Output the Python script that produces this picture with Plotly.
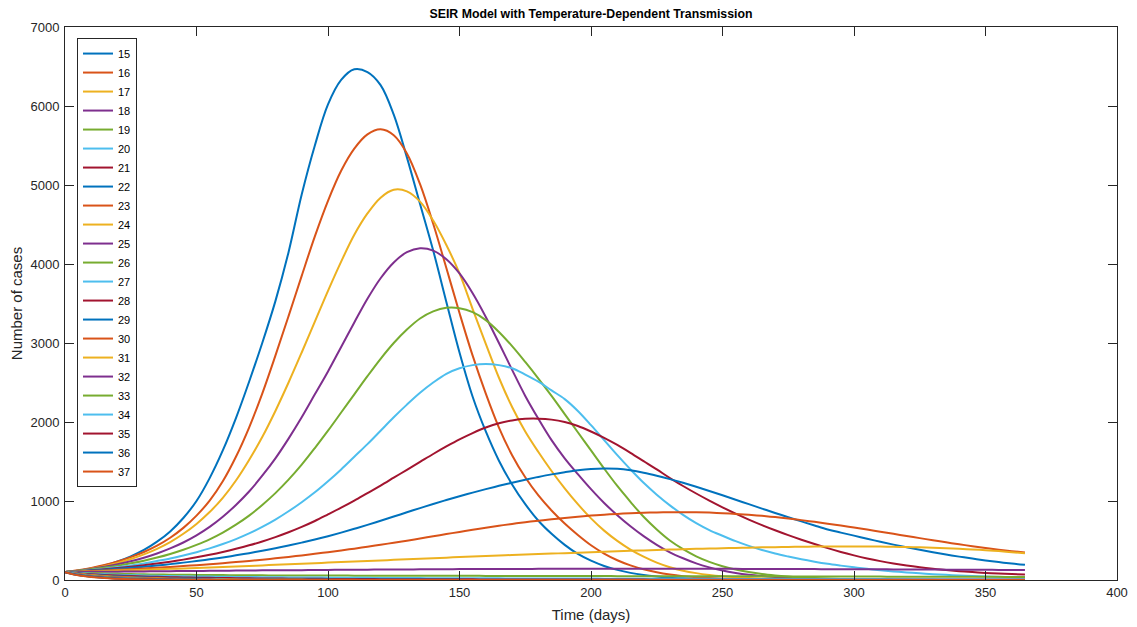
import plotly.graph_objects as go

# Time grid (days): every 5 days from 0 to 365
DAYS = list(range(0, 370, 5))

# Temperature labels (legend)
TEMPS = [15, 16, 17, 18, 19, 20, 21, 22, 23, 24, 25, 26, 27, 28, 29, 30, 31, 32, 33, 34, 35, 36, 37]

# Infected counts per temperature (one value per 5 days)
I15 = [100, 118, 145, 185, 235, 300, 380, 485, 615, 785,
       1000, 1290, 1640, 2050, 2510, 3000, 3530, 4150, 4880, 5500,
       6020, 6330, 6464, 6430, 6265, 5890, 5350, 4760, 4170, 3520,
       2880, 2320, 1880, 1510, 1210, 960, 750, 585, 445, 330,
       245, 178, 128, 90, 63, 44, 30, 21, 14, 10,
       7, 5, 3, 2, 2, 1, 1, 1, 0, 0,
       0, 0, 0, 0, 0, 0, 0, 0, 0, 0,
       0, 0, 0, 0]
I16 = [100, 122, 152, 190, 235, 290, 355, 435, 535, 660,
       815, 1005, 1250, 1560, 1930, 2360, 2840, 3340, 3850, 4350,
       4800, 5180, 5460, 5640, 5705, 5630, 5400, 5010, 4510, 3950,
       3380, 2840, 2360, 1930, 1580, 1300, 1070, 880, 715, 570,
       440, 335, 250, 185, 135, 97, 69, 49, 35, 25,
       17, 12, 9, 6, 4, 3, 2, 2, 1, 1,
       1, 0, 0, 0, 0, 0, 0, 0, 0, 0,
       0, 0, 0, 0]
I17 = [100, 118, 143, 175, 215, 265, 325, 395, 480, 585,
       710, 860, 1040, 1260, 1520, 1810, 2140, 2500, 2880, 3270,
       3660, 4030, 4370, 4640, 4840, 4940, 4920, 4790, 4550, 4240,
       3880, 3430, 2990, 2560, 2190, 1880, 1620, 1380, 1160, 960,
       780, 625, 495, 385, 295, 220, 162, 118, 87, 64,
       47, 34, 25, 18, 13, 10, 7, 5, 4, 3,
       2, 2, 1, 1, 1, 0, 0, 0, 0, 0,
       0, 0, 0, 0]
I18 = [100, 118, 140, 167, 199, 237, 282, 336, 400, 475,
       565, 672, 800, 950, 1120, 1320, 1540, 1790, 2060, 2350,
       2640, 2950, 3260, 3560, 3820, 4020, 4150, 4200, 4170, 4060,
       3880, 3630, 3330, 3000, 2660, 2330, 2040, 1770, 1540, 1340,
       1150, 975, 820, 680, 555, 445, 350, 275, 210, 160,
       120, 90, 67, 50, 37, 27, 20, 15, 11, 8,
       6, 4, 3, 2, 2, 1, 1, 1, 1, 0,
       0, 0, 0, 0]
I19 = [100, 116, 135, 157, 182, 211, 245, 284, 330, 383,
       445, 515, 600, 700, 815, 950, 1100, 1270, 1460, 1670,
       1890, 2120, 2350, 2580, 2800, 3000, 3170, 3310, 3400, 3445,
       3440, 3390, 3290, 3140, 2960, 2760, 2550, 2330, 2100, 1870,
       1640, 1410, 1190, 990, 800, 640, 500, 390, 300, 230,
       175, 132, 100, 75, 57, 43, 32, 24, 18, 13,
       10, 8, 6, 4, 3, 2, 2, 1, 1, 1,
       1, 1, 0, 0]
I20 = [100, 112, 126, 143, 163, 185, 210, 240, 272, 310,
       352, 400, 455, 518, 590, 672, 765, 870, 985, 1110,
       1250, 1400, 1560, 1720, 1890, 2060, 2220, 2370, 2500, 2610,
       2680, 2720, 2735, 2720, 2680, 2600, 2510, 2400, 2290, 2140,
       1960, 1770, 1580, 1400, 1230, 1080, 945, 825, 720, 632,
       560, 492, 432, 380, 335, 297, 262, 232, 205, 182,
       160, 141, 124, 109, 96, 84, 74, 65, 57, 50,
       44, 39, 34, 31]
I21 = [100, 111, 123, 137, 152, 169, 188, 209, 232, 258,
       287, 319, 355, 395, 439, 488, 543, 604, 672, 747,
       830, 915, 1005, 1100, 1195, 1295, 1395, 1495, 1595, 1690,
       1780, 1860, 1930, 1985, 2020, 2040, 2042, 2030, 2000, 1950,
       1880, 1800, 1710, 1610, 1505, 1400, 1290, 1190, 1095, 1005,
       920, 840, 765, 695, 630, 568, 510, 455, 403, 355,
       312, 273, 239, 209, 183, 161, 142, 126, 112, 100,
       90, 82, 75, 70]
I22 = [100, 109, 119, 130, 142, 155, 169, 184, 201, 220,
       240, 262, 286, 312, 340, 370, 402, 436, 473, 513,
       555, 600, 648, 698, 750, 803, 857, 910, 962, 1012,
       1060, 1106, 1150, 1192, 1232, 1270, 1305, 1337, 1364, 1388,
       1405, 1412, 1407, 1388, 1358, 1320, 1277, 1230, 1180, 1127,
       1072, 1016, 960, 904, 849, 795, 742, 690, 640, 600,
       562, 522, 484, 448, 415, 383, 352, 323, 296, 271,
       248, 227, 208, 192]
I23 = [100, 106, 113, 121, 129, 137, 146, 155, 165, 176,
       188, 200, 213, 227, 242, 257, 274, 292, 311, 331,
       352, 374, 397, 421, 446, 472, 498, 525, 553, 581,
       609, 636, 662, 687, 710, 731, 751, 769, 786, 801,
       815, 827, 837, 845, 851, 855, 857, 858, 857, 853,
       846, 837, 826, 812, 796, 778, 758, 736, 713, 689,
       664, 638, 611, 584, 557, 530, 503, 477, 452, 428,
       405, 384, 365, 348]
I24 = [100, 104, 109, 114, 119, 125, 130, 135, 141, 146,
       152, 158, 164, 171, 178, 185, 192, 199, 206, 213,
       220, 227, 234, 241, 248, 255, 262, 269, 276, 283,
       290, 297, 303, 310, 316, 322, 328, 334, 340, 346,
       352, 358, 364, 369, 375, 380, 385, 390, 394, 398,
       402, 406, 409, 413, 416, 418, 421, 423, 424, 425,
       425, 424, 423, 420, 417, 413, 408, 402, 395, 387,
       377, 366, 352, 338]
I25 = [100, 101, 103, 104, 106, 107, 109, 110, 112, 113,
       115, 116, 118, 119, 120, 122, 123, 124, 125, 127,
       128, 129, 130, 131, 132, 133, 134, 135, 136, 137,
       138, 138, 139, 139, 140, 140, 141, 141, 141, 142,
       142, 142, 142, 142, 142, 142, 142, 142, 141, 141,
       141, 141, 140, 140, 139, 139, 138, 138, 137, 137,
       136, 135, 135, 134, 133, 133, 132, 131, 130, 130,
       129, 128, 128, 127]
I26 = [100, 93, 87, 82, 78, 75, 72, 70, 68, 66,
       64, 63, 62, 61, 60, 59, 58, 58, 57, 57,
       56, 56, 55, 55, 55, 54, 54, 54, 53, 53,
       53, 53, 52, 52, 52, 51, 51, 51, 50, 50,
       50, 50, 49, 49, 49, 48, 48, 48, 47, 47,
       47, 46, 46, 46, 45, 45, 45, 44, 44, 44,
       43, 43, 43, 42, 42, 42, 41, 41, 41, 40,
       40, 40, 39, 39]
I27 = [100, 88, 79, 72, 66, 61, 57, 53, 50, 47,
       45, 43, 41, 39, 37, 36, 34, 33, 32, 31,
       30, 29, 28, 27, 26, 25, 25, 24, 23, 23,
       22, 22, 21, 21, 20, 20, 19, 19, 18, 18,
       18, 17, 17, 17, 16, 16, 16, 15, 15, 15,
       14, 14, 14, 14, 13, 13, 13, 13, 12, 12,
       12, 12, 12, 11, 11, 11, 11, 11, 10, 10,
       10, 10, 10, 10]
I28 = [100, 85, 73, 64, 56, 50, 45, 40, 36, 33,
       30, 27, 25, 23, 21, 20, 18, 17, 16, 15,
       14, 13, 12, 12, 11, 10, 10, 9, 9, 8,
       8, 8, 7, 7, 7, 6, 6, 6, 6, 5,
       5, 5, 5, 5, 5, 4, 4, 4, 4, 4,
       4, 4, 3, 3, 3, 3, 3, 3, 3, 3,
       3, 3, 2, 2, 2, 2, 2, 2, 2, 2,
       2, 2, 2, 2]
I29 = [100, 82, 67, 56, 47, 40, 34, 29, 25, 21,
       18, 16, 14, 12, 10, 9, 8, 7, 6, 5,
       5, 4, 4, 3, 3, 3, 2, 2, 2, 2,
       2, 1, 1, 1, 1, 1, 1, 1, 1, 1,
       1, 1, 1, 1, 1, 1, 0, 0, 0, 0,
       0, 0, 0, 0, 0, 0, 0, 0, 0, 0,
       0, 0, 0, 0, 0, 0, 0, 0, 0, 0,
       0, 0, 0, 0]
I30 = [100, 79, 63, 51, 41, 34, 28, 23, 19, 16,
       13, 11, 9, 8, 6, 5, 4, 4, 3, 3,
       2, 2, 2, 1, 1, 1, 1, 1, 1, 1,
       0, 0, 0, 0, 0, 0, 0, 0, 0, 0,
       0, 0, 0, 0, 0, 0, 0, 0, 0, 0,
       0, 0, 0, 0, 0, 0, 0, 0, 0, 0,
       0, 0, 0, 0, 0, 0, 0, 0, 0, 0,
       0, 0, 0, 0]
I31 = [100, 76, 59, 46, 36, 28, 22, 18, 14, 11,
       9, 7, 6, 4, 4, 3, 2, 2, 2, 1,
       1, 1, 1, 1, 0, 0, 0, 0, 0, 0,
       0, 0, 0, 0, 0, 0, 0, 0, 0, 0,
       0, 0, 0, 0, 0, 0, 0, 0, 0, 0,
       0, 0, 0, 0, 0, 0, 0, 0, 0, 0,
       0, 0, 0, 0, 0, 0, 0, 0, 0, 0,
       0, 0, 0, 0]
I32 = [100, 73, 55, 41, 31, 24, 18, 14, 10, 8,
       6, 5, 4, 3, 2, 2, 1, 1, 1, 1,
       0, 0, 0, 0, 0, 0, 0, 0, 0, 0,
       0, 0, 0, 0, 0, 0, 0, 0, 0, 0,
       0, 0, 0, 0, 0, 0, 0, 0, 0, 0,
       0, 0, 0, 0, 0, 0, 0, 0, 0, 0,
       0, 0, 0, 0, 0, 0, 0, 0, 0, 0,
       0, 0, 0, 0]
I33 = [100, 70, 51, 37, 27, 20, 15, 11, 8, 6,
       4, 3, 2, 2, 1, 1, 1, 1, 0, 0,
       0, 0, 0, 0, 0, 0, 0, 0, 0, 0,
       0, 0, 0, 0, 0, 0, 0, 0, 0, 0,
       0, 0, 0, 0, 0, 0, 0, 0, 0, 0,
       0, 0, 0, 0, 0, 0, 0, 0, 0, 0,
       0, 0, 0, 0, 0, 0, 0, 0, 0, 0,
       0, 0, 0, 0]
I34 = [100, 68, 47, 33, 23, 17, 12, 8, 6, 4,
       3, 2, 2, 1, 1, 1, 0, 0, 0, 0,
       0, 0, 0, 0, 0, 0, 0, 0, 0, 0,
       0, 0, 0, 0, 0, 0, 0, 0, 0, 0,
       0, 0, 0, 0, 0, 0, 0, 0, 0, 0,
       0, 0, 0, 0, 0, 0, 0, 0, 0, 0,
       0, 0, 0, 0, 0, 0, 0, 0, 0, 0,
       0, 0, 0, 0]
I35 = [100, 65, 44, 30, 20, 14, 10, 7, 5, 3,
       2, 2, 1, 1, 1, 0, 0, 0, 0, 0,
       0, 0, 0, 0, 0, 0, 0, 0, 0, 0,
       0, 0, 0, 0, 0, 0, 0, 0, 0, 0,
       0, 0, 0, 0, 0, 0, 0, 0, 0, 0,
       0, 0, 0, 0, 0, 0, 0, 0, 0, 0,
       0, 0, 0, 0, 0, 0, 0, 0, 0, 0,
       0, 0, 0, 0]
I36 = [100, 63, 41, 27, 18, 12, 8, 5, 4, 2,
       2, 1, 1, 1, 0, 0, 0, 0, 0, 0,
       0, 0, 0, 0, 0, 0, 0, 0, 0, 0,
       0, 0, 0, 0, 0, 0, 0, 0, 0, 0,
       0, 0, 0, 0, 0, 0, 0, 0, 0, 0,
       0, 0, 0, 0, 0, 0, 0, 0, 0, 0,
       0, 0, 0, 0, 0, 0, 0, 0, 0, 0,
       0, 0, 0, 0]
I37 = [100, 60, 38, 24, 16, 10, 7, 4, 3, 2,
       1, 1, 1, 0, 0, 0, 0, 0, 0, 0,
       0, 0, 0, 0, 0, 0, 0, 0, 0, 0,
       0, 0, 0, 0, 0, 0, 0, 0, 0, 0,
       0, 0, 0, 0, 0, 0, 0, 0, 0, 0,
       0, 0, 0, 0, 0, 0, 0, 0, 0, 0,
       0, 0, 0, 0, 0, 0, 0, 0, 0, 0,
       0, 0, 0, 0]

SERIES = [I15, I16, I17, I18, I19, I20, I21, I22, I23, I24, I25, I26,
          I27, I28, I29, I30, I31, I32, I33, I34, I35, I36, I37]

X_TICKS = [0, 50, 100, 150, 200, 250, 300, 350, 400]
Y_TICKS = [0, 1000, 2000, 3000, 4000, 5000, 6000, 7000]

COLORS = ["#0072BD", "#D95319", "#EDB120", "#7E2F8E", "#77AC30", "#4DBEEE", "#A2142F"]

FONT = "Liberation Sans, Arial, Helvetica, sans-serif"
AX = "#262626"

# page is offset by the browser's 8px body margin; size/margins compensate
W, H = 1129, 619
ML, MR, MT, MB = 57, 20, 19, 47

fig = go.Figure()
for i, (t, ys) in enumerate(zip(TEMPS, SERIES)):
    fig.add_trace(go.Scatter(
        x=DAYS, y=ys, mode="lines", name=str(t),
        line=dict(color=COLORS[i % len(COLORS)], width=2, shape="spline", smoothing=1.0),
    ))

axis_common = dict(
    showline=True, linecolor=AX, linewidth=1, mirror="ticks",
    ticks="inside", ticklen=9, tickwidth=1, tickcolor=AX,
    showgrid=False, zeroline=False, automargin=False,
    tickfont=dict(family=FONT, size=13, color=AX),
)

fig.update_layout(
    width=W, height=H,
    paper_bgcolor="white", plot_bgcolor="white",
    margin=dict(l=ML, r=MR, t=MT, b=MB, autoexpand=False),
    title=dict(text="<b>SEIR Model with Temperature-Dependent Transmission</b>",
               x=(591 - 8) / W, xanchor="center", y=1 - (14 - 8) / H, yanchor="middle",
               font=dict(family=FONT, size=12.3, color="#000000")),
    xaxis=dict(range=[0, 400], tickvals=X_TICKS, ticktext=[str(v) for v in X_TICKS],
               title=dict(text="Time (days)", font=dict(family=FONT, size=15, color=AX), standoff=10),
               **axis_common),
    yaxis=dict(range=[0, 7000], tickvals=Y_TICKS, ticktext=[str(v) for v in Y_TICKS],
               ticklabelstandoff=2,
               title=dict(text="Number of cases", font=dict(family=FONT, size=15, color=AX), standoff=8),
               **axis_common),
    legend=dict(x=0.0114, y=0.98, xanchor="left", yanchor="top",
                bgcolor="white", bordercolor=AX, borderwidth=1,
                font=dict(family=FONT, size=11, color="#000000"),
                itemwidth=30, tracegroupgap=0),
    showlegend=True,
)

fig.write_html("out.html")
